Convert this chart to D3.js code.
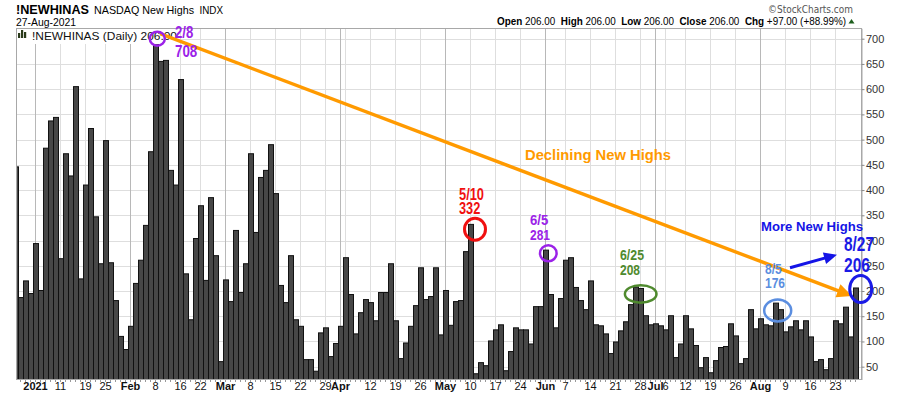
<!DOCTYPE html>
<html><head><meta charset="utf-8">
<script src="https://cdn.jsdelivr.net/npm/d3@7"></script>
<style>html,body{margin:0;padding:0;background:#fff;}svg{display:block;}</style>
</head><body>
<svg id="chart" width="900" height="396"></svg>
<script>
// ---------- DATA ----------
const dates = [
"2020-12-28","2020-12-29","2020-12-30","2020-12-31",
"2021-01-04","2021-01-05","2021-01-06","2021-01-07","2021-01-08","2021-01-11","2021-01-12","2021-01-13","2021-01-14","2021-01-15","2021-01-19","2021-01-20","2021-01-21","2021-01-22","2021-01-25","2021-01-26","2021-01-27","2021-01-28","2021-01-29",
"2021-02-01","2021-02-02","2021-02-03","2021-02-04","2021-02-05","2021-02-08","2021-02-09","2021-02-10","2021-02-11","2021-02-12","2021-02-16","2021-02-17","2021-02-18","2021-02-19","2021-02-22","2021-02-23","2021-02-24","2021-02-25","2021-02-26",
"2021-03-01","2021-03-02","2021-03-03","2021-03-04","2021-03-05","2021-03-08","2021-03-09","2021-03-10","2021-03-11","2021-03-12","2021-03-15","2021-03-16","2021-03-17","2021-03-18","2021-03-19","2021-03-22","2021-03-23","2021-03-24","2021-03-25","2021-03-26","2021-03-29","2021-03-30","2021-03-31",
"2021-04-01","2021-04-05","2021-04-06","2021-04-07","2021-04-08","2021-04-09","2021-04-12","2021-04-13","2021-04-14","2021-04-15","2021-04-16","2021-04-19","2021-04-20","2021-04-21","2021-04-22","2021-04-23","2021-04-26","2021-04-27","2021-04-28","2021-04-29","2021-04-30",
"2021-05-03","2021-05-04","2021-05-05","2021-05-06","2021-05-07","2021-05-10","2021-05-11","2021-05-12","2021-05-13","2021-05-14","2021-05-17","2021-05-18","2021-05-19","2021-05-20","2021-05-21","2021-05-24","2021-05-25","2021-05-26","2021-05-27","2021-05-28",
"2021-06-01","2021-06-02","2021-06-03","2021-06-04","2021-06-07","2021-06-08","2021-06-09","2021-06-10","2021-06-11","2021-06-14","2021-06-15","2021-06-16","2021-06-17","2021-06-18","2021-06-21","2021-06-22","2021-06-23","2021-06-24","2021-06-25","2021-06-28","2021-06-29","2021-06-30",
"2021-07-01","2021-07-02","2021-07-06","2021-07-07","2021-07-08","2021-07-09","2021-07-12","2021-07-13","2021-07-14","2021-07-15","2021-07-16","2021-07-19","2021-07-20","2021-07-21","2021-07-22","2021-07-23","2021-07-26","2021-07-27","2021-07-28","2021-07-29","2021-07-30",
"2021-08-02","2021-08-03","2021-08-04","2021-08-05","2021-08-06","2021-08-09","2021-08-10","2021-08-11","2021-08-12","2021-08-13","2021-08-16","2021-08-17","2021-08-18","2021-08-19","2021-08-20","2021-08-23","2021-08-24","2021-08-25","2021-08-26","2021-08-27"
];
const newHighs = [
446,187,220,195,
294,201,483,537,544,264,472,428,605,224,410,522,347,254,498,256,181,110,84,
130,215,261,330,476,708,655,657,439,410,619,234,143,304,369,221,385,270,60,
222,179,320,197,254,472,316,425,439,490,393,211,177,270,143,130,64,64,41,117,127,70,96,
130,266,193,115,157,183,177,141,197,197,254,141,66,97,130,171,246,183,189,246,113,
201,132,179,181,278,332,36,58,52,101,123,133,42,80,127,123,123,95,169,169,
281,193,127,185,261,266,207,181,163,220,133,131,115,76,99,121,139,173,208,205,151,133,
135,131,123,151,68,95,151,125,92,48,68,38,62,88,90,135,111,56,66,163,125,
145,133,131,176,163,119,129,141,123,141,109,60,64,44,66,141,135,168,109,206
];
const yTicks = [50,100,150,200,250,300,350,400,450,500,550,600,650,700];
const xTickDates = ["2021-01-04","2021-01-11","2021-01-19","2021-01-25","2021-02-01","2021-02-08","2021-02-16","2021-02-22","2021-03-01","2021-03-08","2021-03-15","2021-03-22","2021-03-29","2021-04-01","2021-04-12","2021-04-19","2021-04-26","2021-05-03","2021-05-10","2021-05-17","2021-05-24","2021-06-01","2021-06-07","2021-06-14","2021-06-21","2021-06-28","2021-07-01","2021-07-06","2021-07-12","2021-07-19","2021-07-26","2021-08-02","2021-08-09","2021-08-16","2021-08-23"];
const xTickLabels = ["2021","11","19","25","Feb","8","16","22","Mar","8","15","22","29","Apr","12","19","26","May","10","17","24","Jun","7","14","21","28","Jul","6","12","19","26","Aug","9","16","23"];
const weekGridDates = ["2021-01-04","2021-01-11","2021-01-19","2021-01-25","2021-02-01","2021-02-08","2021-02-16","2021-02-22","2021-03-01","2021-03-08","2021-03-15","2021-03-22","2021-03-29","2021-04-05","2021-04-12","2021-04-19","2021-04-26","2021-05-03","2021-05-10","2021-05-17","2021-05-24","2021-06-01","2021-06-07","2021-06-14","2021-06-21","2021-06-28","2021-07-06","2021-07-12","2021-07-19","2021-07-26","2021-08-02","2021-08-09","2021-08-16","2021-08-23"];
const monthGridDates = ["2021-01-04","2021-02-01","2021-03-01","2021-04-01","2021-05-03","2021-06-01","2021-07-01","2021-08-02"];

const annDates = ["2021-02-08","2021-05-10","2021-06-01","2021-06-25","2021-08-05","2021-08-27"];
const annValues = [708,332,281,208,176,206];
const annLabels = [["2/8","708"],["5/10","332"],["6/5","281"],["6/25","208"],["8/5","176"],["8/27","206"]];
const trendDates = ["2021-02-08","2021-08-27"];
const trendValues = [710,190];
const moreDates = ["2021-08-05","2021-08-24"];
const moreValues = [246,272];
const quoteLabels = ["Open","High","Low","Close"];
const quoteValues = [206,206,206,206];
const change = [97, 88.99];

// ---------- CHART ----------
const svg = d3.select("#chart");
const FONT = "'Liberation Sans', Arial, Helvetica, sans-serif";
const NARROW = "'Liberation Sans Narrow', 'Arial Narrow', 'Liberation Sans', Arial, sans-serif";
const L = 16.5, R = 861.5, T = 28.5, B = 379.5;

const x = d3.scaleBand().domain(dates).range([13, 858]).paddingInner(0).paddingOuter(0);
const xc = d => x(d) + x.bandwidth() / 2;
const y = d3.scaleLinear().domain([24.6, 720.6]).range([B, 28.3]);

svg.append("defs").append("clipPath").attr("id", "plotclip")
  .append("rect").attr("x", L).attr("y", T).attr("width", R - L).attr("height", B - T);

// grid
const grid = svg.append("g");
grid.selectAll("line.h").data(yTicks).join("line")
  .attr("x1", L).attr("x2", R)
  .attr("y1", d => Math.round(y(d)) + 0.5).attr("y2", d => Math.round(y(d)) + 0.5)
  .attr("stroke", "#dedede").attr("stroke-width", 1);
grid.selectAll("line.w").data(weekGridDates).join("line")
  .attr("x1", d => Math.floor(xc(d)) + 0.5).attr("x2", d => Math.floor(xc(d)) + 0.5)
  .attr("y1", T).attr("y2", B)
  .attr("stroke", "#dedede").attr("stroke-width", 1);
grid.selectAll("line.m").data(monthGridDates).join("line")
  .attr("x1", d => Math.floor(xc(d)) + 0.5).attr("x2", d => Math.floor(xc(d)) + 0.5)
  .attr("y1", T).attr("y2", B)
  .attr("stroke", "#b8b8b8").attr("stroke-width", 1);

// bars
svg.append("g").attr("clip-path", "url(#plotclip)")
  .selectAll("rect").data(dates).join("rect")
  .attr("x", d => x(d) + 0.5)
  .attr("y", (d, i) => y(newHighs[i]))
  .attr("width", x.bandwidth())
  .attr("height", (d, i) => B - y(newHighs[i]))
  .attr("fill", "#474747").attr("stroke", "#111").attr("stroke-width", 1);

// legend inside plot
const lg = svg.append("g");
lg.append("rect").attr("x", 17).attr("y", 29).attr("width", 162).attr("height", 15).attr("fill", "#fff");
[[18, 5], [21, 8], [24, 6]].forEach(([bx, h]) =>
  lg.append("rect").attr("x", bx).attr("y", 38 - h).attr("width", 2.2).attr("height", h).attr("fill", "#2a3a1a"));
lg.append("text").attr("x", 32).attr("y", 40).attr("font-family", FONT).attr("font-size", 11.5)
  .attr("fill", "#111").attr("textLength", 145).attr("lengthAdjust", "spacingAndGlyphs")
  .text("!NEWHINAS (Daily) " + quoteValues[3].toFixed(2));

// frame
svg.append("rect").attr("x", L).attr("y", T).attr("width", R - L).attr("height", B - T)
  .attr("fill", "none").attr("stroke", "#a8a8a8").attr("stroke-width", 1);

// daily ticks
svg.append("g").selectAll("line").data(dates.filter(d => xc(d) > L && xc(d) < R)).join("line")
  .attr("x1", d => Math.floor(xc(d)) + 0.5).attr("x2", d => Math.floor(xc(d)) + 0.5)
  .attr("y1", B + 0.5).attr("y2", B + 2.5).attr("stroke", "#999");

// y axis
const ya = svg.append("g").attr("transform", `translate(${R},0)`)
  .call(d3.axisRight(y).tickValues(yTicks).tickSize(3).tickSizeOuter(0).tickPadding(1.5));
ya.select(".domain").attr("stroke", "#a8a8a8");
ya.selectAll(".tick line").attr("stroke", "#888");
ya.selectAll("text").attr("font-family", FONT).attr("font-size", 11).attr("fill", "#333");

// x axis
const xa = svg.append("g").attr("transform", `translate(0,${B})`)
  .call(d3.axisBottom(x).tickValues(xTickDates).tickSize(0).tickPadding(2.5)
    .tickFormat((d) => xTickLabels[xTickDates.indexOf(d)]));
xa.select(".domain").remove();
xa.selectAll("text").attr("font-family", FONT).attr("font-size", 11).attr("fill", "#111")
  .attr("font-weight", d => /\D/.test(xTickLabels[xTickDates.indexOf(d)]) || xTickLabels[xTickDates.indexOf(d)].length === 4 ? "bold" : "normal");

// header
const hd = svg.append("g").attr("font-family", FONT);
hd.append("text").attr("x", 16).attr("y", 14).attr("font-size", 13).attr("font-weight", "bold")
  .attr("textLength", 73).attr("lengthAdjust", "spacingAndGlyphs").attr("fill", "#000").text("!NEWHINAS");
hd.append("text").attr("x", 94).attr("y", 14).attr("font-size", 11.5)
  .attr("textLength", 100).attr("lengthAdjust", "spacingAndGlyphs").attr("fill", "#000").text("NASDAQ New Highs");
hd.append("text").attr("x", 199.5).attr("y", 14).attr("font-size", 10)
  .attr("textLength", 23.5).attr("lengthAdjust", "spacingAndGlyphs").attr("fill", "#000").text("INDX");
hd.append("text").attr("x", 16).attr("y", 26).attr("font-size", 11)
  .attr("textLength", 60).attr("lengthAdjust", "spacingAndGlyphs").attr("fill", "#000").text("27-Aug-2021");
hd.append("text").attr("x", 768).attr("y", 13).attr("font-size", 10).attr("font-family", "'DejaVu Sans', Verdana, sans-serif")
  .attr("textLength", 85).attr("lengthAdjust", "spacingAndGlyphs").attr("fill", "#555").text("\u00a9StockCharts.com");

const q = hd.append("text").attr("x", 497).attr("y", 25).attr("font-size", 10.5).attr("fill", "#000")
  .attr("textLength", 349).attr("lengthAdjust", "spacingAndGlyphs");
quoteLabels.forEach((lab, i) => {
  q.append("tspan").attr("font-weight", "bold").text((i ? "\u00a0\u00a0" : "") + lab);
  q.append("tspan").text("\u00a0" + quoteValues[i].toFixed(2));
});
q.append("tspan").attr("font-weight", "bold").text("\u00a0\u00a0Chg");
q.append("tspan").text("\u00a0+" + change[0].toFixed(2) + "\u00a0(+" + change[1].toFixed(2) + "%)");
hd.append("path").attr("d", "M848.5,23.5 L854.5,23.5 L851.5,19 Z").attr("fill", "#1d5e1d");

// arrows
function arrow(x1, y1, x2, y2, color, w, hl, hw) {
  const dx = x2 - x1, dy = y2 - y1, len = Math.hypot(dx, dy), ux = dx / len, uy = dy / len;
  const bx = x2 - ux * hl, by = y2 - uy * hl;
  svg.append("line").attr("x1", x1).attr("y1", y1).attr("x2", bx + ux * 2).attr("y2", by + uy * 2)
    .attr("stroke", color).attr("stroke-width", w);
  svg.append("path").attr("d", `M${x2},${y2}L${bx - uy * hw},${by + ux * hw}L${bx + uy * hw},${by - ux * hw}Z`)
    .attr("fill", color);
}
arrow(xc(trendDates[0]) + 4.5, y(trendValues[0]), xc(trendDates[1]) - 3.5, y(trendValues[1]), "#ff9a00", 3.4, 15, 7);
arrow(xc(moreDates[0]) + 14.5, y(moreValues[0]), xc(moreDates[1]) - 3.5, y(moreValues[1]), "#1414e6", 3, 13, 6);

// annotations
const annStyle = [
  {color: "#9b22e8", cdx: 1.8, cdy: 4, rx: 7.5, ry: 7, sw: 2.5, tdx: 19.5, tdy: [3.8, 22.3], fs: 16, tw: [18.3, 22.3]},
  {color: "#f01010", cdx: 4.5, cdy: 4.9, rx: 10.5, ry: 11, sw: 3, tdx: -11.5, tdy: [-24.4, -10.4], fs: 16, tw: [25, 21.3]},
  {color: "#9b22e8", cdx: 2.8, cdy: 3.2, rx: 8.3, ry: 8, sw: 2.5, tdx: -15.5, tdy: [-25.1, -10.6], fs: 15, tw: [18.3, 20]},
  {color: "#4f8a2e", cdx: 5.2, cdy: 7, rx: 15.8, ry: 8.8, sw: 2.5, tdx: -15.5, tdy: [-27, -12], fs: 14, tw: [24, 20]},
  {color: "#5b8ee0", cdx: 2.2, cdy: 7.4, rx: 13.5, ry: 11, sw: 2.5, tdx: -10.5, tdy: [-29.6, -14.8], fs: 14, tw: [16.7, 20]},
  {color: "#1a1ae6", cdx: 5.2, cdy: 1, rx: 11, ry: 13.5, sw: 3, tdx: -11.5, tdy: [-36.5, -15.5], fs: 20, tw: [30, 26]}
];
annDates.forEach((d, i) => {
  const s = annStyle[i], cx = xc(d), cy = y(annValues[i]);
  svg.append("ellipse").attr("cx", cx + s.cdx).attr("cy", cy + s.cdy).attr("rx", s.rx).attr("ry", s.ry)
    .attr("fill", "none").attr("stroke", s.color).attr("stroke-width", s.sw);
  annLabels[i].forEach((t, k) => {
    svg.append("text").attr("x", cx + s.tdx).attr("y", cy + s.tdy[k])
      .attr("font-family", NARROW).attr("font-weight", "bold").attr("font-size", s.fs)
      .attr("fill", s.color).attr("textLength", s.tw[k]).attr("lengthAdjust", "spacingAndGlyphs").text(t);
  });
});

svg.append("text").attr("x", 525).attr("y", 160).attr("font-family", FONT).attr("font-weight", "bold")
  .attr("font-size", 15.5).attr("fill", "#ff9a00").attr("textLength", 146).attr("lengthAdjust", "spacingAndGlyphs")
  .text("Declining New Highs");
svg.append("text").attr("x", 761).attr("y", 231).attr("font-family", FONT).attr("font-weight", "bold")
  .attr("font-size", 13).attr("fill", "#1414e6").attr("textLength", 102).attr("lengthAdjust", "spacingAndGlyphs")
  .text("More New Highs");
</script>
</body></html>
